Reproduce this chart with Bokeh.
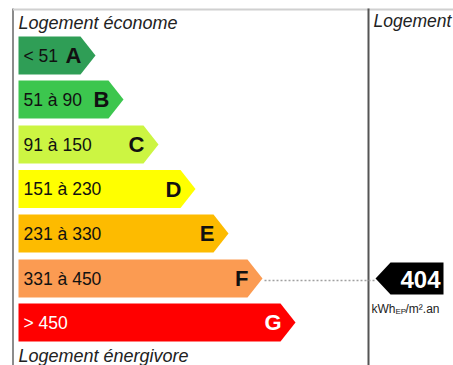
from bokeh.plotting import figure
from bokeh.models import Range1d, ColumnDataSource
from bokeh.core.properties import value
from bokeh.embed import file_html
from bokeh.resources import INLINE

# ---- data ----
letters = ["A", "B", "C", "D", "E", "F", "G"]
ranges = ["< 51", "51 à 90", "91 à 150", "151 à 230", "231 à 330", "331 à 450", "> 450"]
bar_ends = [80, 108, 143, 180, 213, 247, 280]   # length of each class arrow body
row_centers = [55, 99, 144, 188.5, 233, 278, 322]
colors = ["#2f9e56", "#3cc64e", "#ccf542", "#ffff00", "#fdbb00", "#fb9b52", "#ff0000"]
text_colors = ["#111111"] * 6 + ["#ffffff"]
consumption = 404
current_class = "F"
unit_main = "kWh"
unit_sub = "EP"
unit_tail = "/m².an"

FONT = value("Liberation Sans")

W, H = 453, 365
p = figure(width=W, height=H, x_range=Range1d(0, W), y_range=Range1d(H, 0),
           output_backend="svg", toolbar_location=None, min_border=0)
p.axis.visible = False
p.grid.visible = False
p.outline_line_color = None
p.background_fill_color = "white"
p.border_fill_color = "white"

x0 = 18
half_h = 19
tip_w = 15

xs, ys = [], []
for e, c in zip(bar_ends, row_centers):
    xs.append([x0, e, e + tip_w, e, x0])
    ys.append([c - half_h, c - half_h, c, c + half_h, c + half_h])
src = ColumnDataSource(dict(xs=xs, ys=ys, color=colors))
p.patches("xs", "ys", fill_color="color", line_color=None, source=src)

lab = ColumnDataSource(dict(x=[x0 + 5] * 7, y=row_centers, t=ranges, c=text_colors))
p.text("x", "y", text="t", text_color="c", source=lab, text_font=FONT,
       text_font_size="17.5px", text_baseline="middle", text_align="left")

let = ColumnDataSource(dict(x=[e + 1 for e in bar_ends], y=row_centers, t=letters, c=text_colors))
p.text("x", "y", text="t", text_color="c", source=let, text_font=FONT,
       text_font_size="22px", text_font_style="bold", text_baseline="middle", text_align="right")

# frame
p.line([12.5, 12.5], [8, H], line_color="#666666", line_width=1.5)
p.line([12.5, W], [9, 9], line_color="#d0d0d0", line_width=2)
p.line([368, 368], [8, H], line_color="#555555", line_width=2)

# headings
p.text([18], [22], text=["Logement économe"], text_font=FONT, text_font_size="18px",
       text_font_style="italic", text_color="#222222", text_baseline="middle")
p.text([18], [355], text=["Logement énergivore"], text_font=FONT, text_font_size="18px",
       text_font_style="italic", text_color="#222222", text_baseline="middle")
p.text([373], [20], text=["Logement"], text_font=FONT, text_font_size="17.5px",
       text_font_style="italic", text_color="#222222", text_baseline="middle")

# indicator
i = letters.index(current_class)
yc = row_centers[i]
p.line([bar_ends[i] + tip_w + 2, 374], [yc + 2, yc + 2], line_color="#a0a0a0",
       line_width=1.3, line_dash="2 2")
p.patch([375, 390, 443, 443, 390], [yc, yc - 16, yc - 16, yc + 16, yc + 16],
        fill_color="black", line_color=None)
p.text([420], [yc + 1], text=[str(consumption)], text_font=FONT, text_font_size="24px",
       text_font_style="bold", text_color="white", text_baseline="middle", text_align="center")
p.text([371], [308], text=[unit_main], text_font=FONT, text_font_size="12px",
       text_color="#222222", text_baseline="middle")
p.text([395], [311], text=[unit_sub], text_font=FONT, text_font_size="8px",
       text_color="#222222", text_baseline="middle")
p.text([405], [308], text=[unit_tail], text_font=FONT, text_font_size="12px",
       text_color="#222222", text_baseline="middle")

open("out.html", "w").write(file_html(p, INLINE))
